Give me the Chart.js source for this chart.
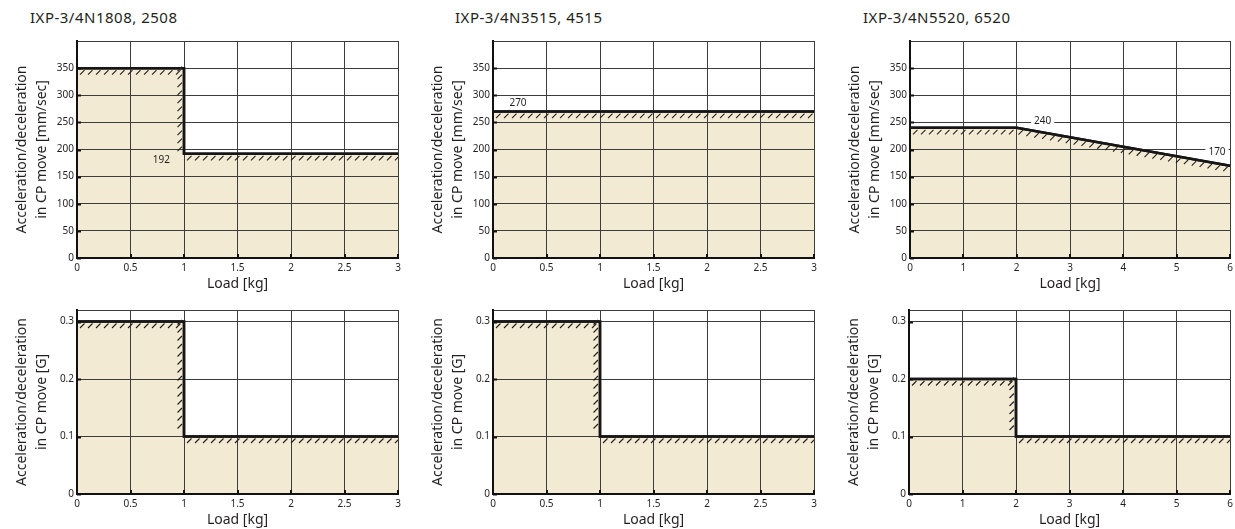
<!DOCTYPE html>
<html>
<head>
<meta charset="utf-8">
<script src="https://cdn.jsdelivr.net/npm/chart.js@4.4.1/dist/chart.umd.min.js"></script>
<style>
  html, body { margin: 0; padding: 0; background: #fff; }
  body { width: 1235px; height: 529px; position: relative; overflow: hidden; font-family: "Noto Sans", sans-serif; }
  .model { position: absolute; top: 8px; font-size: 15px; letter-spacing: 0.5px; line-height: 18px; color: #231f20; white-space: nowrap; }
  canvas { position: absolute; }
</style>
</head>
<body>
<div class="model" id="m0"></div>
<div class="model" id="m1"></div>
<div class="model" id="m2"></div>

<canvas id="c0"></canvas>
<canvas id="c1"></canvas>
<canvas id="c2"></canvas>
<canvas id="c3"></canvas>
<canvas id="c4"></canvas>
<canvas id="c5"></canvas>

<script>
// Robot models, one column each
const models = ['IXP-3/4N1808, 2508', 'IXP-3/4N3515, 4515', 'IXP-3/4N5520, 6520'];

// Allowable acceleration/deceleration [mm/sec] against load [kg]
const load1808Speed  = [0, 1, 1, 3];
const accel1808Speed = [350, 350, 192, 192];
const load3515Speed  = [0, 3];
const accel3515Speed = [270, 270];
const load5520Speed  = [0, 2, 6];
const accel5520Speed = [240, 240, 170];

// Allowable acceleration/deceleration [G] against load [kg]
const load1808G  = [0, 1, 1, 3];
const accel1808G = [0.3, 0.3, 0.1, 0.1];
const load3515G  = [0, 1, 1, 3];
const accel3515G = [0.3, 0.3, 0.1, 0.1];
const load5520G  = [0, 2, 2, 6];
const accel5520G = [0.2, 0.2, 0.1, 0.1];

// Axis ticks
const xTicksShort = [0, 0.5, 1, 1.5, 2, 2.5, 3];
const xTicksLong  = [0, 1, 2, 3, 4, 5, 6];
const yTicksSpeed = [0, 50, 100, 150, 200, 250, 300, 350];
const yTicksG     = [0, 0.1, 0.2, 0.3];
const speedMax = 400;
const gMax = 0.32;

const titleSpeed = ['Acceleration/deceleration', 'in CP move [mm/sec]'];
const titleG     = ['Acceleration/deceleration', 'in CP move [G]'];
const titleLoad  = 'Load [kg]';

// Points whose values are printed next to the curve
const marked1808Speed = [2];
const marked3515Speed = [0];
const marked5520Speed = [1, 2];

Chart.defaults.font.family = '"Noto Sans", sans-serif';
Chart.defaults.color = '#231f20';

models.forEach((m, i) => { document.getElementById('m' + i).textContent = m; });
document.getElementById('m0').style.left = '30px';
document.getElementById('m1').style.left = '455px';
document.getElementById('m2').style.left = '863px';

const INK = '#231f20';
const FILL = '#f2ead3';

// Hatching along the limit curve, outline on top of the grid, axis ticks, value labels
const limitPlugin = {
  id: 'limitCurve',
  afterDraw(chart, args, opts) {
    const ctx = chart.ctx, area = chart.chartArea;
    const meta = chart.getDatasetMeta(0);
    const pts = meta.data;

    ctx.save();
    meta.dataset.draw(ctx, area);
    ctx.restore();

    ctx.save();
    ctx.beginPath();
    ctx.rect(area.left, area.top, area.right - area.left, area.bottom - area.top);
    ctx.clip();
    ctx.strokeStyle = INK;
    ctx.lineWidth = 1.1;
    ctx.beginPath();
    for (let k = 0; k < pts.length - 1; k++) {
      const a = pts[k], b = pts[k + 1];
      const dx = b.x - a.x, dy = b.y - a.y, len = Math.hypot(dx, dy);
      if (len < 1) continue;
      const ux = dx / len, uy = dy / len, nx = -uy, ny = ux;
      for (let s = 3; s < len; s += 8) {
        const sx = a.x + ux * s + nx * 6.5, sy = a.y + uy * s + ny * 6.5;
        ctx.moveTo(sx, sy);
        ctx.lineTo(sx + 4.5, sy - 4.5);
      }
    }
    ctx.stroke();
    ctx.restore();

    // short ticks inside the axes
    ctx.save();
    ctx.strokeStyle = '#111';
    ctx.lineWidth = 2;
    ctx.beginPath();
    const xs = chart.scales.x, ys = chart.scales.y;
    opts.yTicks.forEach(v => {
      const p = Math.round(ys.getPixelForValue(v)) + 0.5;
      ctx.moveTo(area.left, p); ctx.lineTo(area.left + 4, p);
    });
    opts.xTicks.forEach(v => {
      const p = Math.round(xs.getPixelForValue(v));
      ctx.moveTo(p, area.bottom); ctx.lineTo(p, area.bottom - 4);
    });
    ctx.stroke();
    ctx.restore();

    // value labels
    ctx.save();
    ctx.font = '10px "Noto Sans", sans-serif';
    ctx.textBaseline = 'middle';
    (opts.labels || []).forEach(l => {
      const pt = pts[l.index];
      const val = chart.data.datasets[0].data[l.index].y;
      const text = String(val);
      const cx = pt.x + l.dx, cy = pt.y + l.dy;
      const w = ctx.measureText(text).width;
      if (l.bg) {
        ctx.fillStyle = '#fff';
        ctx.fillRect(cx - w / 2 - 3, cy - 6, w + 6, 12);
      }
      ctx.fillStyle = INK;
      ctx.textAlign = l.align || 'center';
      ctx.fillText(text, cx, cy);
    });
    ctx.restore();
  }
};

const panels = [
  { canvas: 'c0', load: load1808Speed, accel: accel1808Speed, xTicks: xTicksShort, yTicks: yTicksSpeed, yMax: speedMax, yTitle: titleSpeed,
    marked: marked1808Speed, labelStyle: [{ dx: -14, dy: 6, align: 'right' }],
    box: { l: 77, r: 398, t: 41, b: 258 }, row: 0 },
  { canvas: 'c1', load: load3515Speed, accel: accel3515Speed, xTicks: xTicksShort, yTicks: yTicksSpeed, yMax: speedMax, yTitle: titleSpeed,
    marked: marked3515Speed, labelStyle: [{ dx: 25, dy: -8 }],
    box: { l: 493, r: 814, t: 41, b: 258 }, row: 0 },
  { canvas: 'c2', load: load5520Speed, accel: accel5520Speed, xTicks: xTicksLong, yTicks: yTicksSpeed, yMax: speedMax, yTitle: titleSpeed,
    marked: marked5520Speed, labelStyle: [{ dx: 26, dy: -7, bg: true }, { dx: -13, dy: -14, bg: true }],
    box: { l: 910, r: 1230, t: 41, b: 258 }, row: 0 },
  { canvas: 'c3', load: load1808G, accel: accel1808G, xTicks: xTicksShort, yTicks: yTicksG, yMax: gMax, yTitle: titleG,
    marked: [], labelStyle: [],
    box: { l: 77, r: 398, t: 310, b: 494 }, row: 1 },
  { canvas: 'c4', load: load3515G, accel: accel3515G, xTicks: xTicksShort, yTicks: yTicksG, yMax: gMax, yTitle: titleG,
    marked: [], labelStyle: [],
    box: { l: 493, r: 814, t: 310, b: 494 }, row: 1 },
  { canvas: 'c5', load: load5520G, accel: accel5520G, xTicks: xTicksLong, yTicks: yTicksG, yMax: gMax, yTitle: titleG,
    marked: [], labelStyle: [],
    box: { l: 909, r: 1230, t: 310, b: 494 }, row: 1 }
];

panels.forEach(p => {
  const yAxisW = 77, padRight = 10;
  const padTop = p.row === 0 ? 11 : 14;
  const xAxisH = p.row === 0 ? 35 : 34;
  const left = p.box.l - yAxisW;
  const top = p.box.t - padTop;
  const width = p.box.r + padRight - left;
  const height = p.box.b + xAxisH - top;
  const cv = document.getElementById(p.canvas);
  cv.width = width; cv.height = height;
  cv.style.left = left + 'px'; cv.style.top = top + 'px';
  cv.style.width = width + 'px'; cv.style.height = height + 'px';

  const xMin = p.xTicks[0], xMax = p.xTicks[p.xTicks.length - 1];
  const yLabelSet = p.yTicks;

  new Chart(cv, {
    type: 'line',
    data: {
      datasets: [{
        data: p.load.map((v, i) => ({ x: v, y: p.accel[i] })),
        borderColor: '#161616',
        borderWidth: 2.5,
        backgroundColor: FILL,
        fill: 'origin',
        pointRadius: 0,
        tension: 0
      }]
    },
    options: {
      responsive: false,
      animation: false,
      devicePixelRatio: 1,
      layout: { padding: { left: 0, right: padRight, top: padTop, bottom: 0 } },
      plugins: {
        legend: { display: false },
        tooltip: { enabled: false },
        limitCurve: {
          xTicks: p.xTicks,
          yTicks: p.yTicks,
          labels: p.marked.map((idx, k) => Object.assign({ index: idx }, p.labelStyle[k]))
        }
      },
      scales: {
        x: {
          type: 'linear',
          min: xMin, max: xMax,
          afterBuildTicks: s => { s.ticks = p.xTicks.map(v => ({ value: v })); },
          afterFit: s => { s.height = xAxisH; },
          ticks: { padding: 4, font: { size: 10 }, color: INK, maxRotation: 0, autoSkip: false, callback: v => String(v) },
          grid: { color: '#3c3c3c', lineWidth: 1, drawTicks: false, z: 1 },
          border: { display: true, color: '#111', width: 2, z: 2 },
          title: { display: true, text: titleLoad, color: INK, font: { size: 14 }, padding: { top: 0, bottom: p.row === 0 ? 1 : 0 } }
        },
        y: {
          type: 'linear',
          min: 0, max: p.yMax,
          afterBuildTicks: s => { s.ticks = p.yTicks.concat([p.yMax]).map(v => ({ value: v })); },
          afterFit: s => { s.width = yAxisW; },
          ticks: { padding: 3, font: { size: 10 }, color: INK, autoSkip: false,
                   callback: v => yLabelSet.includes(v) ? String(v) : '' },
          grid: { color: '#3c3c3c', lineWidth: 1, drawTicks: false, z: 1 },
          border: { display: true, color: '#111', width: 2, z: 2 },
          title: { display: true, text: p.yTitle, color: INK, font: { size: 14, lineHeight: '20px' }, padding: { top: 12, bottom: 0 } }
        }
      }
    },
    plugins: [limitPlugin]
  });
});
</script>
</body>
</html>
